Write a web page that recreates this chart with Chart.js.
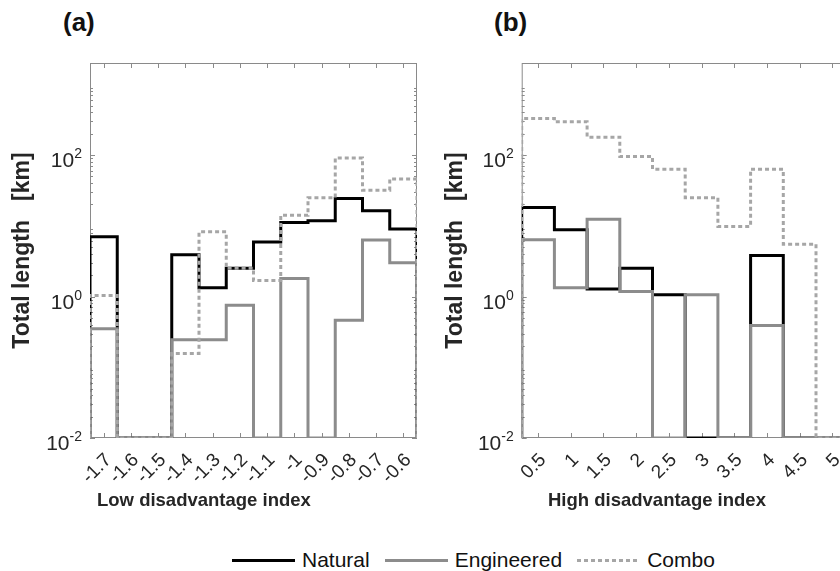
<!DOCTYPE html>
<html>
<head>
<meta charset="utf-8">
<script src="https://cdn.jsdelivr.net/npm/chart.js@4.4.0/dist/chart.umd.min.js"></script>
<style>
  html, body { margin: 0; padding: 0; background: #fff; }
  body { width: 840px; height: 571px; position: relative; overflow: hidden;
         font-family: "Liberation Sans", Arial, sans-serif; color: #262626; }
  canvas { position: absolute; top: 0; }
  #chartA { left: 0; }
  #chartB { left: 440px; }
  .panel { position: absolute; top: 9px; font-weight: bold; font-size: 26px; line-height: 26px; color: #111; }
  .xtitle { position: absolute; top: 490px; font-weight: bold; font-size: 18.5px; line-height: 19px; white-space: nowrap; }
  #legend { position: absolute; left: 232px; top: 549px; display: flex; align-items: center;
            font-size: 21px; line-height: 22px; color: #111; }
  .item { display: flex; align-items: center; margin-right: 15px; }
  .swatch { width: 63px; height: 3px; margin-right: 7px; }
</style>
</head>
<body>
<div class="panel" style="left:63px">(a)</div>
<div class="panel" style="left:494px">(b)</div>
<canvas id="chartA" width="440" height="500"></canvas>
<canvas id="chartB" width="440" height="500"></canvas>
<div class="xtitle" style="left:97px">Low disadvantage index</div>
<div class="xtitle" style="left:548px">High disadvantage index</div>
<div id="legend">
  <div class="item"><div class="swatch" style="background:#000"></div>Natural</div>
  <div class="item"><div class="swatch" style="background:#8c8c8c"></div>Engineered</div>
  <div class="item"><div class="swatch" style="background:repeating-linear-gradient(to right,#a6a6a6 0 4px,transparent 4px 7px)"></div>Combo</div>
</div>
<script>
// panel (a): low disadvantage index, bins of 0.1
const binsA = [-1.7, -1.6, -1.5, -1.4, -1.3, -1.2, -1.1, -1.0, -0.9, -0.8, -0.7, -0.6];
const naturalA    = [7.0, 0, 0, 3.9, 1.33, 2.5, 5.9, 11.1, 11.8, 24.3, 16.3, 9.0];
const engineeredA = [0.35, 0, 0, 0.245, 0.245, 0.75, 0, 1.8, 0, 0.46, 6.3, 3.0];
const comboA      = [1.03, 0, 0, 0.156, 8.2, 2.5, 1.68, 14.1, 25, 91, 31.8, 46];
const ticksA  = [-1.7, -1.6, -1.5, -1.4, -1.3, -1.2, -1.1, -1.0, -0.9, -0.8, -0.7, -0.6];
const labelsA = ['-1.7', '-1.6', '-1.5', '-1.4', '-1.3', '-1.2', '-1.1', '-1', '-0.9', '-0.8', '-0.7', '-0.6'];

// panel (b): high disadvantage index, bins of 0.5
const binsB = [0.5, 1, 1.5, 2, 2.5, 3, 3.5, 4, 4.5, 5];
const naturalB    = [18.1, 8.8, 1.28, 2.5, 1.06, 0, 0, 3.8, 0, 0];
const engineeredB = [6.35, 1.33, 12.4, 1.18, 0, 1.06, 0, 0.39, 0, 0];
const comboB      = [329, 295, 179, 95, 63, 25, 9.8, 63, 5.5, 0];
const ticksB  = [0.5, 1, 1.5, 2, 2.5, 3, 3.5, 4, 4.5, 5];
const labelsB = ['0.5', '1', '1.5', '2', '2.5', '3', '3.5', '4', '4.5', '5'];

const yTicks = [0.01, 1, 100];
const yExp   = ['-2', '0', '2'];

const yMin = 0.01, yMax = 2000;
const fam = '"Liberation Sans", Arial, sans-serif';
const ink = '#262626';

// histogram outline, empty bins sit on the axis floor
function stairs(centers, width, vals) {
  const h = width / 2;
  const pts = [{x: centers[0] - h, y: yMin}];
  vals.forEach((v, i) => {
    const val = v > 0 ? v : yMin;
    pts.push({x: centers[i] - h, y: val}, {x: centers[i] + h, y: val});
  });
  pts.push({x: centers[centers.length - 1] + h, y: yMin});
  return pts;
}

const matlabAxes = {
  id: 'matlabAxes',
  beforeDatasetsDraw(chart) {
    const {ctx, chartArea: a, scales: {x, y}} = chart;
    ctx.save();
    ctx.strokeStyle = '#8a8a8a';
    ctx.lineWidth = 1;
    ctx.strokeRect(a.left + 0.5, a.top + 0.5, a.width - 1, a.height - 1);
    ctx.beginPath();
    x.ticks.forEach(t => {
      const px = Math.round(x.getPixelForValue(t.value)) + 0.5;
      ctx.moveTo(px, a.bottom); ctx.lineTo(px, a.bottom - 5);
      ctx.moveTo(px, a.top); ctx.lineTo(px, a.top + 5);
    });
    y.ticks.forEach(t => {
      const py = Math.round(y.getPixelForValue(t.value)) + 0.5;
      ctx.moveTo(a.left, py); ctx.lineTo(a.left + 5, py);
      ctx.moveTo(a.right, py); ctx.lineTo(a.right - 5, py);
    });
    for (let e = -2; e <= 3; e++) {
      for (let m = 2; m <= 9; m++) {
        const v = m * Math.pow(10, e);
        if (v >= yMax) break;
        const py = Math.round(y.getPixelForValue(v)) + 0.5;
        ctx.moveTo(a.left, py); ctx.lineTo(a.left + 3, py);
        ctx.moveTo(a.right, py); ctx.lineTo(a.right - 3, py);
      }
    }
    ctx.stroke();
    ctx.restore();
  },
  afterDraw(chart) {
    const {ctx, chartArea: a, scales: {y}} = chart;
    ctx.save();
    ctx.fillStyle = ink;
    ctx.textAlign = 'right';
    ctx.textBaseline = 'alphabetic';
    yTicks.forEach((v, i) => {
      const py = y.getPixelForValue(v);
      const xr = a.left - 8;
      ctx.font = '14px ' + fam;
      const w = ctx.measureText(yExp[i]).width;
      ctx.fillText(yExp[i], xr, py + 3);
      ctx.font = '21px ' + fam;
      ctx.fillText('10', xr - w, py + 12);
    });
    ctx.restore();
  }
};

function makeChart(id, bins, width, nat, eng, com, ticks, labels, xmin, xmax, yW, padR, titlePad) {
  const ds = (label, vals, color, dash) => ({
    label: label,
    data: stairs(bins, width, vals),
    borderColor: color,
    borderWidth: 3,
    borderDash: dash,
    pointRadius: 0,
    tension: 0,
    fill: false
  });
  return new Chart(document.getElementById(id), {
    type: 'line',
    data: {
      datasets: [
        ds('Combo', com, '#a6a6a6', [4, 3]),
        ds('Engineered', eng, '#8c8c8c', []),
        ds('Natural', nat, '#000000', [])
      ]
    },
    options: {
      responsive: false,
      animation: false,
      events: [],
      layout: { padding: { top: 63, left: 0, right: padR, bottom: 0 } },
      plugins: { legend: { display: false }, tooltip: { enabled: false } },
      scales: {
        x: {
          type: 'linear', min: xmin, max: xmax,
          grid: { display: false }, border: { display: false },
          afterBuildTicks: s => { s.ticks = ticks.map(v => ({ value: v })); },
          afterFit: s => { s.height = 62; },
          ticks: {
            autoSkip: false, minRotation: 45, maxRotation: 45,
            padding: 3, labelOffset: 5,
            font: { size: 19, family: fam }, color: ink,
            callback: (v, i) => labels[i]
          }
        },
        y: {
          type: 'logarithmic', min: yMin, max: yMax,
          grid: { display: false }, border: { display: false },
          afterBuildTicks: s => { s.ticks = yTicks.map(v => ({ value: v })); },
          afterFit: s => { s.width = yW; },
          ticks: { display: false },
          title: {
            display: true, text: 'Total length   [km]', color: ink,
            font: { size: 23, weight: 'bold', family: fam },
            padding: { top: titlePad, bottom: 0 }
          }
        }
      }
    },
    plugins: [matlabAxes]
  });
}

makeChart('chartA', binsA, 0.1, naturalA, engineeredA, comboA, ticksA, labelsA, -1.75, -0.55, 90, 23, 9);
makeChart('chartB', binsB, 0.5, naturalB, engineeredB, comboB, ticksB, labelsB, 0.25, 5.25, 81.7, 31.3, 2);
</script>
</body>
</html>
